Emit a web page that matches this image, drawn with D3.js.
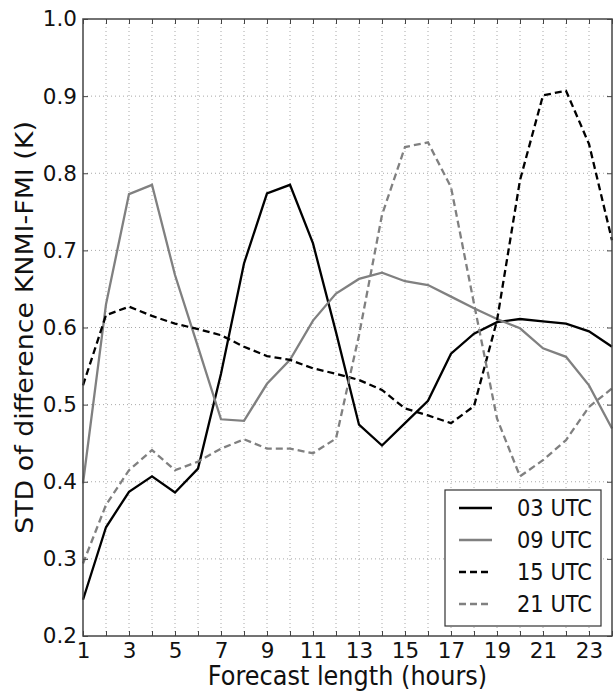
<!DOCTYPE html>
<html>
<head>
<meta charset="utf-8">
<script src="https://cdn.jsdelivr.net/npm/d3@7"></script>
<style>
  body { margin: 0; background: #fff; }
  svg text { font-family: "DejaVu Sans", sans-serif; fill: #111; }
</style>
</head>
<body>
<div id="chart"></div>
<script>
// forecast hours and the four series (STD of difference, K)
const hours = [1,2,3,4,5,6,7,8,9,10,11,12,13,14,15,16,17,18,19,20,21,22,23,24];
const utc03 = [0.247,0.341,0.387,0.407,0.386,0.417,0.540,0.683,0.774,0.785,0.709,0.594,0.474,0.447,0.476,0.505,0.566,0.592,0.607,0.611,0.608,0.605,0.595,0.575];
const utc09 = [0.398,0.630,0.773,0.785,0.668,0.575,0.481,0.479,0.527,0.558,0.609,0.644,0.663,0.671,0.660,0.655,0.640,0.625,0.611,0.599,0.573,0.562,0.525,0.469];
const utc15 = [0.525,0.616,0.627,0.615,0.605,0.598,0.590,0.575,0.563,0.558,0.547,0.540,0.532,0.519,0.495,0.486,0.476,0.498,0.609,0.791,0.901,0.907,0.838,0.713];
const utc21 = [0.294,0.370,0.415,0.441,0.415,0.426,0.443,0.455,0.443,0.443,0.437,0.456,0.590,0.746,0.834,0.840,0.782,0.631,0.482,0.407,0.428,0.454,0.497,0.521];
const seriesNames = ["03 UTC", "09 UTC", "15 UTC", "21 UTC"];
const yTicks = [0.2,0.3,0.4,0.5,0.6,0.7,0.8,0.9,1.0];

const styles = [
  {color: "#000", dash: null},
  {color: "#808080", dash: null},
  {color: "#000", dash: "7,4"},
  {color: "#808080", dash: "7,4"}
];
const allSeries = [utc03, utc09, utc15, utc21];

const margin = {top: 19, right: 2, bottom: 57, left: 83},
    width = 614 - margin.left - margin.right,
    height = 693 - margin.top - margin.bottom;

const svg = d3.select("#chart")
  .append("svg")
    .attr("width", width + margin.left + margin.right)
    .attr("height", height + margin.top + margin.bottom)
  .append("g")
    .attr("transform", `translate(${margin.left},${margin.top})`);

const x = d3.scaleLinear().domain([1, 24]).range([0, width]);
const y = d3.scaleLinear().domain([0.2, 1.0]).range([height, 0]);

// dotted grid
svg.append("g")
  .selectAll("line")
  .data(hours.slice(1, -1))
  .join("line")
    .attr("x1", d => x(d)).attr("x2", d => x(d))
    .attr("y1", 0).attr("y2", height)
    .attr("stroke", "#a8a8a8")
    .attr("stroke-width", 1)
    .attr("stroke-dasharray", "1,3");
svg.append("g")
  .selectAll("line")
  .data(yTicks.slice(1, -1))
  .join("line")
    .attr("y1", d => y(d)).attr("y2", d => y(d))
    .attr("x1", 0).attr("x2", width)
    .attr("stroke", "#a8a8a8")
    .attr("stroke-width", 1)
    .attr("stroke-dasharray", "1,3");

// the lines
const line = d3.line()
  .x((d, i) => x(hours[i]))
  .y(d => y(d));

allSeries.forEach((s, k) => {
  svg.append("path")
    .datum(s)
    .attr("fill", "none")
    .attr("stroke", styles[k].color)
    .attr("stroke-width", 2.3)
    .attr("stroke-dasharray", styles[k].dash)
    .attr("stroke-linejoin", "miter")
    .attr("d", line);
});

// axes, ticks pointing inward
svg.append("g")
  .attr("transform", `translate(0,${height})`)
  .call(d3.axisBottom(x)
    .tickValues(hours)
    .tickSize(-5)
    .tickPadding(7)
    .tickFormat(d => d % 2 === 1 ? d : ""));
svg.append("g")
  .call(d3.axisLeft(y)
    .tickValues(yTicks)
    .tickSize(-5)
    .tickPadding(6)
    .tickFormat(d3.format(".1f")));
svg.append("g")
  .call(d3.axisTop(x).tickValues(hours).tickSize(-5).tickFormat(""));
svg.append("g")
  .attr("transform", `translate(${width},0)`)
  .call(d3.axisRight(y).tickValues(yTicks).tickSize(-5).tickFormat(""));

svg.selectAll(".domain").remove();
svg.selectAll(".tick line").attr("stroke", "#444");
svg.selectAll(".tick text")
  .style("font-size", "21.5px")
  .attr("fill", "#111");

// frame
svg.append("rect")
  .attr("width", width)
  .attr("height", height)
  .attr("fill", "none")
  .attr("stroke", "#444")
  .attr("stroke-width", 1.5);

// axis titles (source image is slightly stretched vertically)
svg.append("text")
  .attr("transform", `translate(${width / 2},${height + 49}) scale(1,1.1)`)
  .attr("text-anchor", "middle")
  .style("font-size", "24px")
  .text("Forecast length (hours)");
svg.append("text")
  .attr("transform", `translate(${-50},${height / 2}) rotate(-90) scale(1.12,1)`)
  .attr("text-anchor", "middle")
  .style("font-size", "24px")
  .text("STD of difference KNMI-FMI (K)");

// legend
const legend = svg.append("g")
  .attr("transform", `translate(${width - 167},${height - 146})`);
legend.append("rect")
  .attr("width", 156)
  .attr("height", 136)
  .attr("fill", "#fff")
  .attr("stroke", "#333")
  .attr("stroke-width", 1.2);
seriesNames.forEach((name, k) => {
  const row = legend.append("g").attr("transform", `translate(0,${18 + k * 32})`);
  row.append("line")
    .attr("x1", 14).attr("x2", 47)
    .attr("stroke", styles[k].color)
    .attr("stroke-width", 2.3)
    .attr("stroke-dasharray", styles[k].dash);
  row.append("text")
    .attr("transform", "translate(72,0) scale(1,1.1)")
    .attr("dy", "0.35em")
    .style("font-size", "21px")
    .text(name);
});
</script>
</body>
</html>
